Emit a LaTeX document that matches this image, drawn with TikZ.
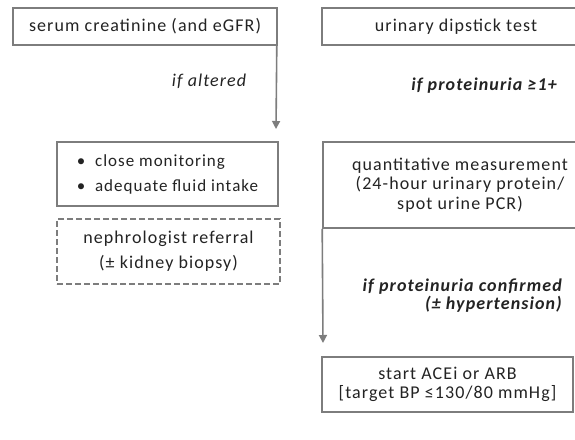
\documentclass[tikz,border=0pt]{standalone}
\usepackage{fontspec}
\setmainfont[LetterSpace=6]{Carlito}
\usetikzlibrary{arrows.meta}
\definecolor{edge}{RGB}{125,125,125}
\definecolor{ink}{RGB}{35,35,35}
\begin{document}
\begin{tikzpicture}[x=1pt,y=-1pt,
  box/.style={draw=edge, line width=1.6pt, inner sep=0pt, font=\fontsize{18}{19.5}\selectfont, text=ink, align=center},
  dbox/.style={box, dashed, dash pattern=on 6pt off 3pt},
  lbl/.style={font=\fontsize{18}{18}\selectfont\itshape, text=ink, inner sep=0pt},
  blbl/.style={lbl, font=\fontsize{18}{18}\selectfont\bfseries\itshape},
  conn/.style={draw=edge, line width=1.6pt, -{Triangle[length=8pt,width=8pt]}}]
\useasboundingbox (0,0) rectangle (575,439);
\clip (0,0) rectangle (575,439);
\fill[white] (0,0) rectangle (575,439);
% left column
\node[box, minimum width=264pt, minimum height=37pt] (creat) at (145,26.5) {serum creatinine (and eGFR)};
\node[box, minimum width=221pt, minimum height=64pt, align=left, font=\fontsize{17}{25}\selectfont] (monit) at (167.5,174)
  {\textbullet\ \ close monitoring\\ \textbullet\ \ adequate fluid intake};
\node[dbox, minimum width=223pt, minimum height=65pt, font=\fontsize{18}{25}\selectfont] (nephro) at (168.5,251.5)
  {nephrologist referral\\ (± kidney biopsy)};
\coordinate (altend) at (276,129);
\draw[conn] ([xshift=-1pt]creat.south east) -- (altend);
\node[lbl] (ifalt) at (209,81) {if altered};
% right column
\node[box, minimum width=268pt, minimum height=37pt] (dip) at (456,26.5) {urinary dipstick test};
\node[blbl, anchor=east] (ifprot) at (557,86) {if proteinuria ≥1+};
\node[box, minimum width=274pt, minimum height=86pt] (quant) at (460,185)
  {quantitative measurement\\ (24-hour urinary protein/\\ spot urine PCR)};
\coordinate (confend) at (323,343);
\draw[conn] (quant.south west) -- (confend);
\node[blbl, anchor=east, align=right] (ifconf) at (562,296) {if proteinuria confirmed\\ (± hypertension)};
\node[box, minimum width=251pt, minimum height=55pt] (acei) at (447.5,384.5)
  {start ACEi or ARB\\ {[target BP ≤130/80 mmHg]}};
\end{tikzpicture}
\end{document}
